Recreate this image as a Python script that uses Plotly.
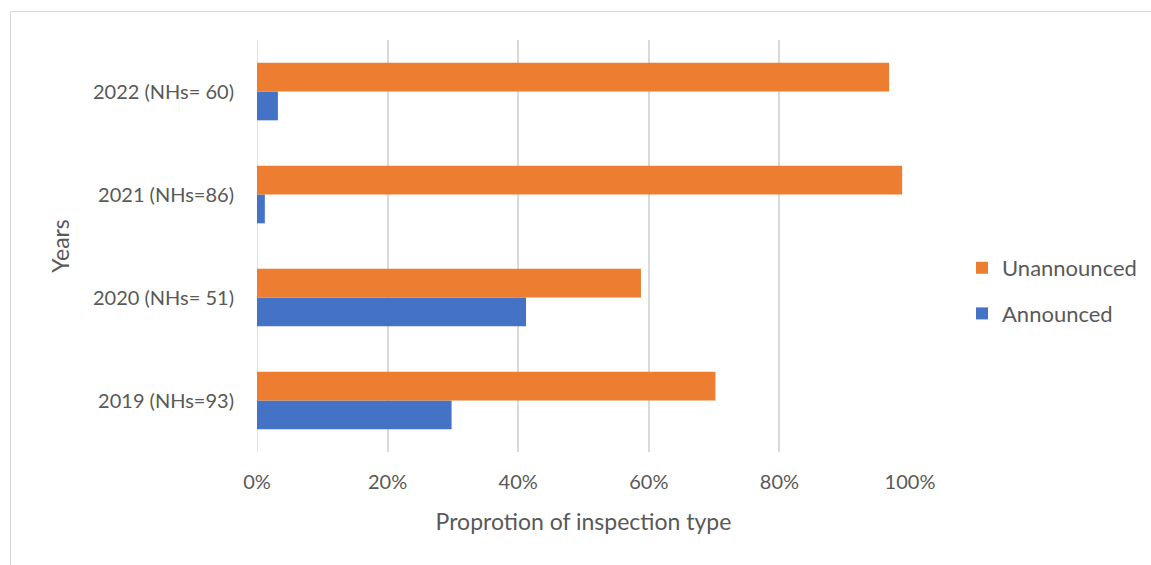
import plotly.graph_objects as go

categories = ["2019 (NHs=93)", "2020 (NHs= 51)", "2021 (NHs=86)", "2022 (NHs= 60)"]
announced = [0.298, 0.412, 0.012, 0.032]
unannounced = [0.702, 0.588, 0.988, 0.968]
x_ticks = [0, 0.2, 0.4, 0.6, 0.8, 1.0]
x_tick_labels = ["0%", "20%", "40%", "60%", "80%", "100%"]

W, H = 1151, 565
L, R, T, B = 257, 241, 40, 113
pw, ph = W - L - R, H - T - B

def px_x(v):
    return (v - L) / pw

def px_y(v):
    return (H - B - v) / ph

font = "Lato, 'Open Sans', sans-serif"
grey = "#595959"

fig = go.Figure()
fig.add_trace(go.Bar(y=categories, x=announced, orientation="h", name="Announced",
                     marker=dict(color="#4472C4", line=dict(width=0)), legendgroup="a", legendrank=2))
fig.add_trace(go.Bar(y=categories, x=unannounced, orientation="h", name="Unannounced",
                     marker=dict(color="#ED7D31", line=dict(width=0)), legendgroup="u", legendrank=1))

fig.update_layout(
    width=W, height=H,
    margin=dict(l=L, r=R, t=T, b=B, autoexpand=False),
    barmode="group", bargap=0.44, bargroupgap=0,
    plot_bgcolor="white", paper_bgcolor="white",
    font=dict(family=font, color=grey, size=20),
    xaxis=dict(range=[0, 1], tickvals=x_ticks, ticktext=x_tick_labels,
               showgrid=True, gridcolor="#D9D9D9", gridwidth=1.5, zeroline=False,
               showline=False, ticks="", ticklabelstandoff=16, tickfont=dict(size=20, color=grey),
               title=dict(text="Proprotion of inspection type", font=dict(size=23, color=grey), standoff=21)),
    yaxis=dict(showgrid=False, zeroline=False, showline=False, ticks="",
               ticklabelstandoff=22,
               tickfont=dict(size=20, color=grey),
               title=dict(text="Years", font=dict(size=23, color=grey), standoff=16)),
    legend=dict(x=px_x(962), y=px_y(247), xanchor="left", yanchor="top",
                traceorder="grouped", tracegroupgap=14,
                font=dict(size=22, color=grey), itemwidth=30, bgcolor="rgba(0,0,0,0)"),
    shapes=[
        dict(type="line", xref="paper", yref="paper", x0=px_x(10.5), x1=px_x(1200), y0=px_y(11.5), y1=px_y(11.5),
             line=dict(color="#D9D9D9", width=1.2)),
        dict(type="line", xref="paper", yref="paper", x0=px_x(10.5), x1=px_x(10.5), y0=px_y(11.5), y1=px_y(600),
             line=dict(color="#D9D9D9", width=1.2)),
        dict(type="line", xref="x", yref="paper", x0=0, x1=0, y0=0, y1=1,
             line=dict(color="#D9D9D9", width=1.5), layer="below"),
    ],
)

fig.write_html("out.html")
